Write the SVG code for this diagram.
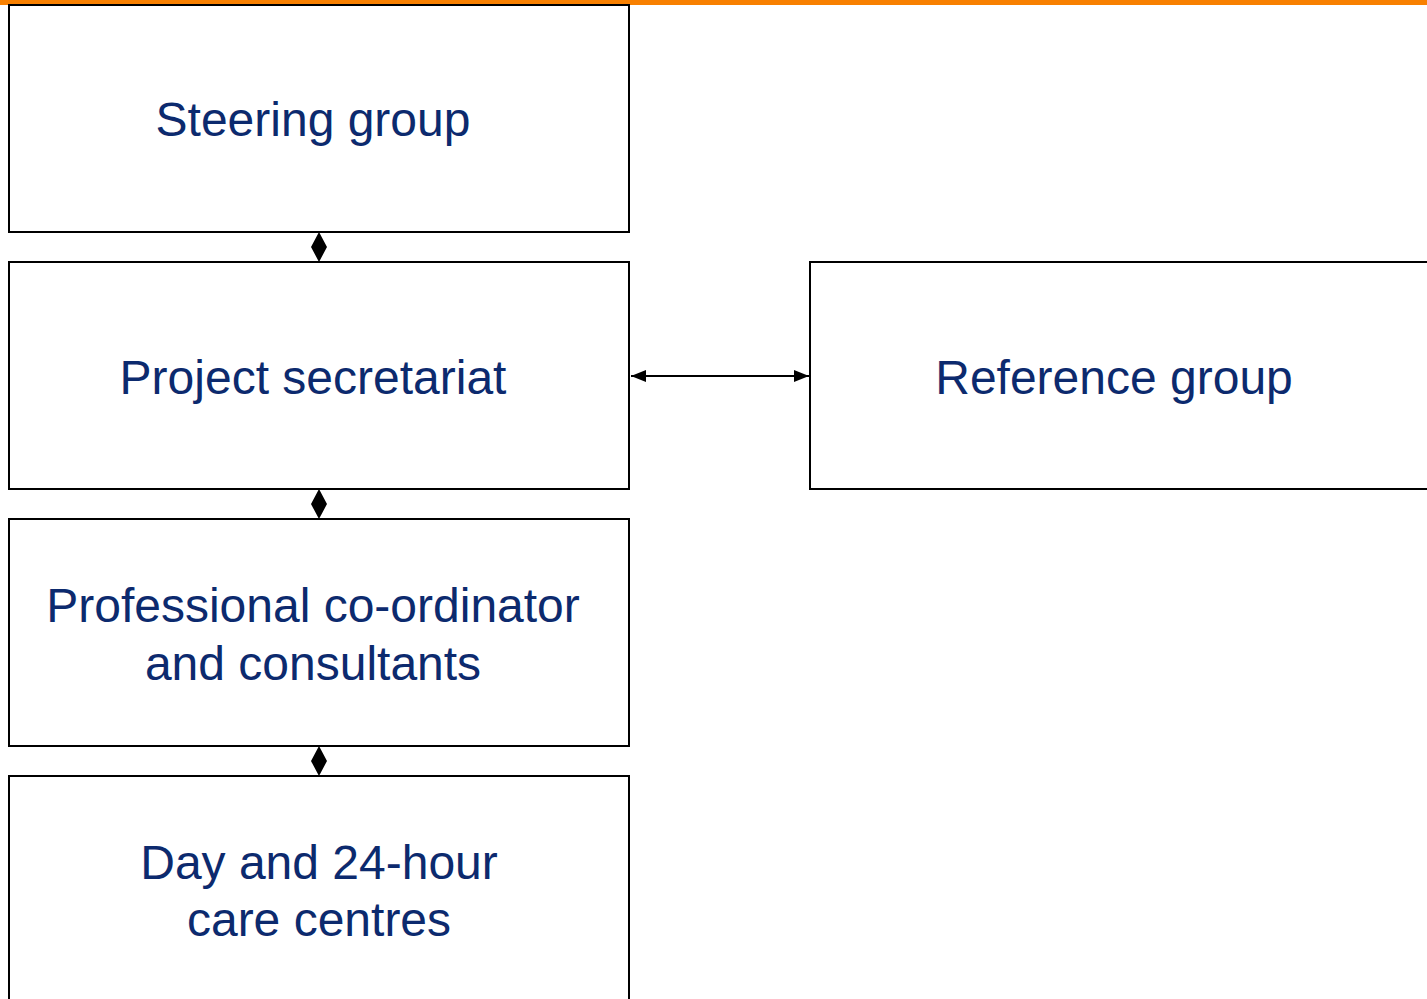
<svg xmlns="http://www.w3.org/2000/svg" width="1427" height="999" viewBox="0 0 1427 999">
<defs>
<style>
.box{fill:#fff;stroke:#000;stroke-width:2}
.lbl{font-family:"Liberation Sans",Arial,sans-serif;font-size:48px;fill:#0c2a6e;text-anchor:middle}
.con{stroke:#000;stroke-width:2;fill:none}
.dia{fill:#000}
</style>
<marker id="ah" viewBox="0 0 15 12" refX="15" refY="6" markerWidth="15" markerHeight="12" markerUnits="userSpaceOnUse" orient="auto-start-reverse">
<path d="M0,0 L15,6 L0,12 z" fill="#000"/>
</marker>
</defs>
<rect x="0" y="0" width="1427" height="999" fill="#fff"/>
<rect x="0" y="0" width="1427" height="5" fill="#f88000"/>
<g id="steering"><rect class="box" x="9" y="5" width="620" height="227"/><text class="lbl" x="313" y="136">Steering group</text></g>
<g id="secretariat"><rect class="box" x="9" y="262" width="620" height="227"/><text class="lbl" x="313" y="394">Project secretariat</text></g>
<g id="coordinator"><rect class="box" x="9" y="519" width="620" height="227"/><text class="lbl" x="313" y="622">Professional co-ordinator</text><text class="lbl" x="313" y="680">and consultants</text></g>
<g id="centres"><rect class="box" x="9" y="776" width="620" height="240"/><text class="lbl" x="319" y="879">Day and 24-hour</text><text class="lbl" x="319" y="936">care centres</text></g>
<g id="reference"><rect class="box" x="810" y="262" width="640" height="227"/><text class="lbl" x="1114" y="394">Reference group</text></g>
<g id="connectors">
<path class="dia" d="M319,232 L327,247 L319,262 L311,247 z"/>
<path class="dia" d="M319,489 L327,504 L319,519 L311,504 z"/>
<path class="dia" d="M319,746 L327,761 L319,776 L311,761 z"/>
<line class="con" x1="631" y1="376" x2="809" y2="376" marker-start="url(#ah)" marker-end="url(#ah)"/>
</g>
</svg>
